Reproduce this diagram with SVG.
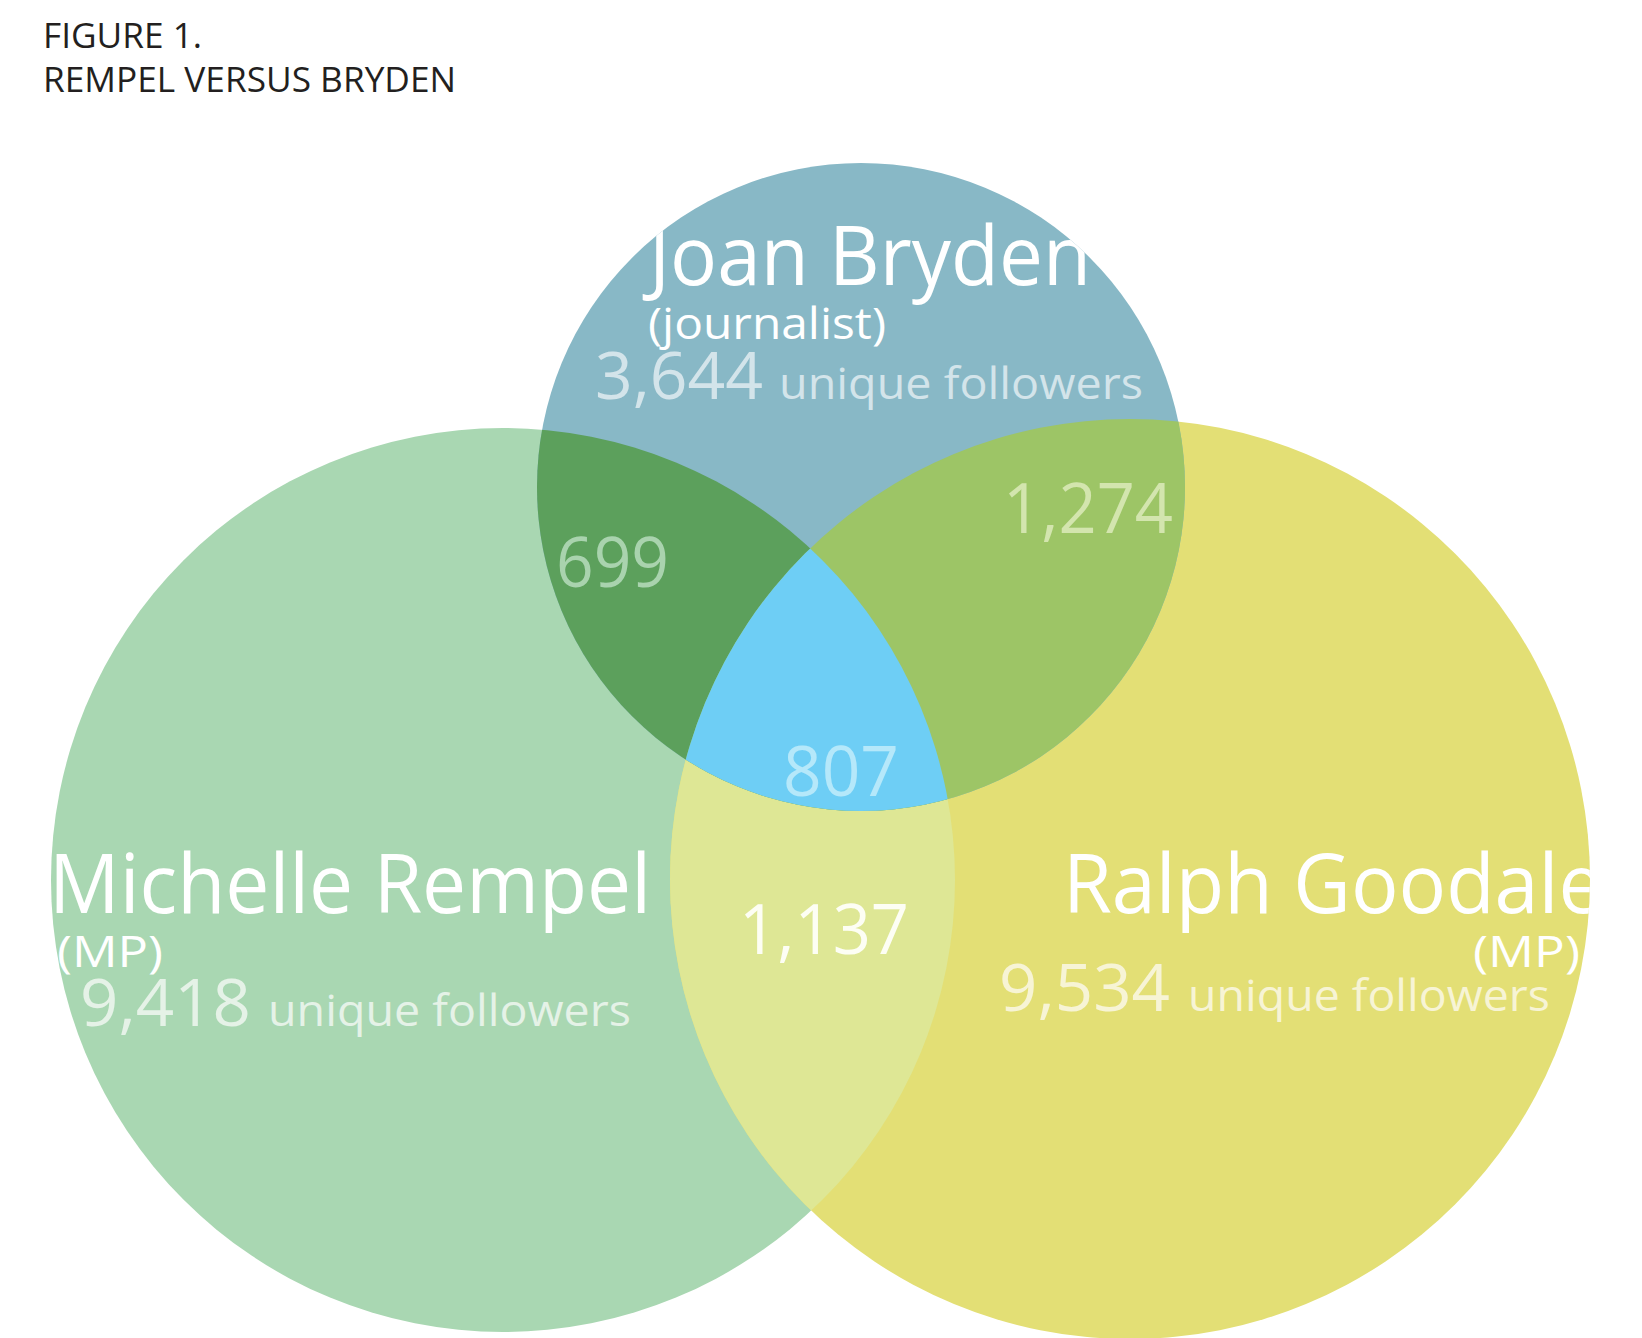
<svg xmlns="http://www.w3.org/2000/svg" width="1642" height="1338" viewBox="0 0 1642 1338">
<style>
text{font-family:"Open Sans","Noto Sans","Liberation Sans",sans-serif}
.title{font-size:34px;fill:#231F20}
.name{font-size:82px;fill:#FFFFFF}
.sub{font-size:44px;fill:#FFFFFF}
.num{font-size:66px}
.uf{font-size:44px}
.inum{font-size:70px}
</style>
<defs>
<clipPath id="clipT"><circle cx="861" cy="487" r="324"/></clipPath>
<clipPath id="clipL"><circle cx="503" cy="880" r="452"/></clipPath>
<clipPath id="clipR"><circle cx="1130" cy="879" r="460"/></clipPath>
</defs>
<rect width="1642" height="1338" fill="#FFFFFF"/>
<g id="title">
<text class="title" x="43" y="48" textLength="159" lengthAdjust="spacingAndGlyphs">FIGURE 1.</text>
<text class="title" x="43" y="92" textLength="413" lengthAdjust="spacingAndGlyphs">REMPEL VERSUS BRYDEN</text>
</g>
<g id="circles">
<circle id="circle-left" cx="503" cy="880" r="452" fill="#A9D7B2"/>
<circle id="circle-right" cx="1130" cy="879" r="460" fill="#E3DF75"/>
<circle id="circle-top" cx="861" cy="487" r="324" fill="#88B8C6"/>
</g>
<g id="overlaps">
<g clip-path="url(#clipL)"><circle cx="1130" cy="879" r="460" fill="#DEE795"/></g>
<g clip-path="url(#clipL)"><circle cx="861" cy="487" r="324" fill="#5CA05C"/></g>
<g clip-path="url(#clipR)"><circle cx="861" cy="487" r="324" fill="#9DC566"/></g>
<g clip-path="url(#clipL)"><g clip-path="url(#clipR)"><circle cx="861" cy="487" r="324" fill="#6ECEF5"/></g></g>
</g>
<g id="node-bryden" clip-path="url(#clipT)">
<text class="name" x="649" y="285" textLength="442" lengthAdjust="spacingAndGlyphs">Joan Bryden</text>
<text class="sub" x="648" y="339" textLength="238" lengthAdjust="spacingAndGlyphs">(journalist)</text>
<text x="595" y="399" fill="#D3E4EA"><tspan class="num" textLength="168" lengthAdjust="spacingAndGlyphs">3,644</tspan><tspan class="uf" x="779" textLength="364" lengthAdjust="spacingAndGlyphs">unique followers</tspan></text>
</g>
<g id="node-rempel" clip-path="url(#clipL)">
<text class="name" x="49" y="913" textLength="602" lengthAdjust="spacingAndGlyphs">Michelle Rempel</text>
<text class="sub" x="57" y="967" textLength="106" lengthAdjust="spacingAndGlyphs">(MP)</text>
<text x="80" y="1026" fill="#E5F2E7"><tspan class="num" textLength="171" lengthAdjust="spacingAndGlyphs">9,418</tspan><tspan class="uf" x="268" textLength="363" lengthAdjust="spacingAndGlyphs">unique followers</tspan></text>
</g>
<g id="node-goodale" clip-path="url(#clipR)">
<text class="name" x="1063" y="913" textLength="540" lengthAdjust="spacingAndGlyphs">Ralph Goodale</text>
<text class="sub" x="1473" y="967" textLength="107" lengthAdjust="spacingAndGlyphs">(MP)</text>
<text x="999" y="1011" fill="#F7F4D5"><tspan class="num" textLength="171" lengthAdjust="spacingAndGlyphs">9,534</tspan><tspan class="uf" x="1188" textLength="362" lengthAdjust="spacingAndGlyphs">unique followers</tspan></text>
</g>
<g id="overlap-labels">
<text id="lbl-699" class="inum" x="556" y="587" fill="#A9D3AE" textLength="113" lengthAdjust="spacingAndGlyphs">699</text>
<text id="lbl-1274" class="inum" x="1003" y="533" fill="#D3E5AE" textLength="170" lengthAdjust="spacingAndGlyphs">1,274</text>
<text id="lbl-807" class="inum" x="783" y="796" fill="#B5E8FA" textLength="116" lengthAdjust="spacingAndGlyphs">807</text>
<text id="lbl-1137" class="inum" x="739" y="954" fill="#FDFEF4" textLength="170" lengthAdjust="spacingAndGlyphs">1,137</text>
</g>
</svg>
